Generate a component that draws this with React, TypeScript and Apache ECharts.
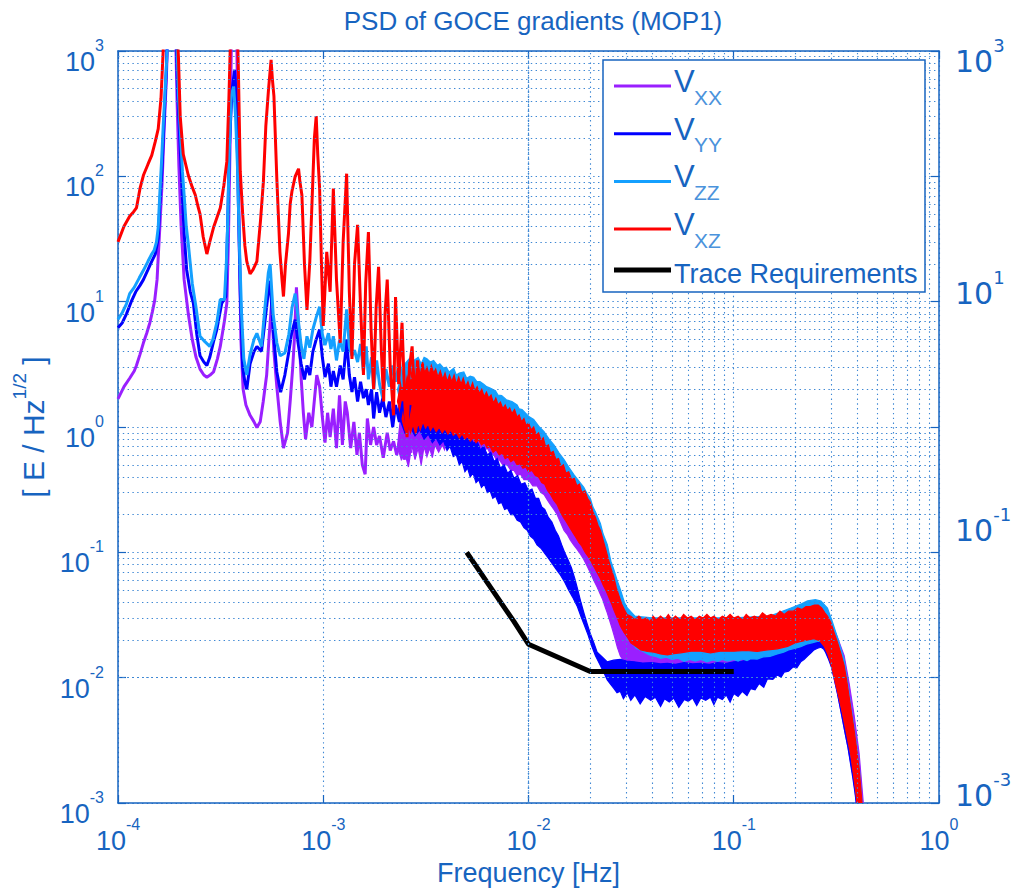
import React, { useEffect, useRef } from "react";
import * as echarts from "echarts";

// ---------------- texts ----------------
const chartTitle = "PSD of GOCE gradients (MOP1)";
const xAxisTitle = "Frequency [Hz]";
const yTitleMain = "[ E / Hz";
const yTitleSup = "1/2";
const yTitleEnd = " ]";
const legendNames = ["VXX", "VYY", "VZZ", "VXZ", "Trace Requirements"];
const xDecades = [1e-4, 1e-3, 1e-2, 1e-1];
const yDecades = [1e-3, 1e-2, 1e-1, 1, 10, 100];
const minorMultipliers = [2, 3, 4, 5, 6, 7, 8, 9];
const rightLabelExponents = [3, 1, -1, -3];

// ---------------- data: low-frequency (line) parts ----------------
const vxxLow = [
  [1.0e-4, 1.68], [1.07e-4, 2.1], [1.14e-4, 2.45], [1.2e-4, 2.8], [1.23e-4, 3.1], [1.28e-4, 3.8], [1.33e-4, 4.7], [1.38e-4, 5.6], [1.43e-4, 6.8], [1.47e-4, 8.3], [1.51e-4, 10.3], [1.55e-4, 15], [1.57e-4, 22.6], [1.6e-4, 40], [1.64e-4, 90], [1.68e-4, 250], [1.72e-4, 600], [1.76e-4, 2000], [1.9e-4, 2000], [1.94e-4, 400], [1.98e-4, 120], [2.03e-4, 40], [2.1e-4, 15], [2.2e-4, 8], [2.3e-4, 5], [2.4e-4, 3.6], [2.51e-4, 2.9], [2.62e-4, 2.6], [2.71e-4, 2.5], [2.81e-4, 2.6], [2.92e-4, 2.75], [3.05e-4, 3.5], [3.15e-4, 4.4], [3.3e-4, 7], [3.39e-4, 9.7], [3.45e-4, 30], [3.52e-4, 200], [3.58e-4, 2000], [3.78e-4, 2000], [3.84e-4, 200], [3.9e-4, 30], [3.97e-4, 5], [4.07e-4, 2.0], [4.2e-4, 1.5], [4.4e-4, 1.24], [4.6e-4, 1.1], [4.75e-4, 0.99], [4.93e-4, 1.1], [5.1e-4, 1.6], [5.3e-4, 2.6], [5.45e-4, 5.3], [5.6e-4, 9.7], [5.75e-4, 4], [5.94e-4, 2.1], [6.17e-4, 1.1], [6.4e-4, 0.68], [6.7e-4, 0.9], [6.9e-4, 1.6], [7.1e-4, 3], [7.25e-4, 5.3], [7.4e-4, 13], [7.6e-4, 6], [7.8e-4, 2.5], [8.0e-4, 1.3], [8.2e-4, 0.8], [8.5e-4, 1.3], [8.8e-4, 1.0], [9.1e-4, 1.8], [9.3e-4, 2.6], [9.6e-4, 2.1], [9.9e-4, 1.2], [1.02e-3, 0.75], [1.05e-3, 1.3], [1.08e-3, 0.83], [1.12e-3, 1.4], [1.16e-3, 0.68], [1.2e-3, 1.79], [1.24e-3, 0.72], [1.28e-3, 1.6], [1.31e-3, 1.3], [1.36e-3, 0.68], [1.41e-3, 1.1], [1.46e-3, 0.6], [1.5e-3, 0.9], [1.55e-3, 0.5], [1.6e-3, 0.42], [1.64e-3, 1.17], [1.7e-3, 0.72], [1.76e-3, 1.0], [1.82e-3, 0.72], [1.88e-3, 0.85], [1.96e-3, 0.57], [2.05e-3, 0.9], [2.12e-3, 0.65], [2.2e-3, 0.77], [2.28e-3, 0.6], [2.38e-3, 0.83], [2.48e-3, 0.55], [2.58e-3, 0.75], [2.68e-3, 0.62],
];
const vyyLow = [
  [1.0e-4, 6.2], [1.05e-4, 6.8], [1.1e-4, 8], [1.16e-4, 10], [1.22e-4, 12], [1.28e-4, 13.5], [1.33e-4, 15], [1.4e-4, 18], [1.46e-4, 21], [1.52e-4, 24], [1.57e-4, 32], [1.6e-4, 60], [1.64e-4, 120], [1.68e-4, 300], [1.72e-4, 700], [1.75e-4, 2000], [1.91e-4, 2000], [1.95e-4, 500], [2.0e-4, 200], [2.05e-4, 80], [2.1e-4, 35], [2.16e-4, 18], [2.25e-4, 12], [2.33e-4, 9.7], [2.42e-4, 5.5], [2.51e-4, 3.7], [2.62e-4, 3.3], [2.71e-4, 3.1], [2.8e-4, 3.6], [2.92e-4, 4.8], [3.03e-4, 6.0], [3.2e-4, 9.7], [3.35e-4, 11], [3.42e-4, 40], [3.5e-4, 200], [3.6e-4, 500], [3.7e-4, 709], [3.78e-4, 400], [3.86e-4, 60], [3.94e-4, 12], [4.05e-4, 3.0], [4.15e-4, 2.3], [4.24e-4, 2.0], [4.4e-4, 3.2], [4.6e-4, 4.0], [4.75e-4, 4.4], [5.0e-4, 4.0], [5.2e-4, 7], [5.4e-4, 12], [5.51e-4, 14.7], [5.7e-4, 6], [5.94e-4, 2.75], [6.2e-4, 1.9], [6.5e-4, 2.6], [6.8e-4, 4], [7.0e-4, 5.5], [7.3e-4, 7.2], [7.5e-4, 5], [7.8e-4, 3.2], [8.1e-4, 2.4], [8.33e-4, 3.1], [8.6e-4, 2.6], [8.9e-4, 4.0], [9.24e-4, 5.0], [9.6e-4, 6.0], [9.9e-4, 3.6], [1.02e-3, 2.5], [1.06e-3, 3.2], [1.09e-3, 2.1], [1.12e-3, 2.8], [1.16e-3, 2.1], [1.21e-3, 3.1], [1.25e-3, 2.4], [1.3e-3, 5.0], [1.34e-3, 2.6], [1.38e-3, 1.9], [1.42e-3, 2.5], [1.47e-3, 1.6], [1.52e-3, 2.3], [1.57e-3, 1.7], [1.62e-3, 2.0], [1.66e-3, 1.5], [1.72e-3, 2.0], [1.76e-3, 1.17], [1.82e-3, 1.9], [1.88e-3, 1.3], [1.95e-3, 1.7], [2.02e-3, 1.2], [2.1e-3, 1.6], [2.18e-3, 1.0], [2.25e-3, 1.5], [2.35e-3, 1.1], [2.45e-3, 1.6], [2.55e-3, 1.05], [2.65e-3, 1.5],
];
const vzzLow = [
  [1.0e-4, 7.2], [1.05e-4, 8.2], [1.1e-4, 9.6], [1.14e-4, 11.6], [1.2e-4, 13], [1.27e-4, 15.5], [1.33e-4, 17.8], [1.4e-4, 21], [1.46e-4, 24], [1.5e-4, 25.7], [1.54e-4, 30], [1.57e-4, 39], [1.6e-4, 75], [1.63e-4, 131], [1.66e-4, 250], [1.69e-4, 437], [1.73e-4, 900], [1.76e-4, 2000], [1.92e-4, 2000], [1.97e-4, 450], [2.01e-4, 239], [2.06e-4, 110], [2.1e-4, 71], [2.15e-4, 40], [2.2e-4, 29], [2.3e-4, 14], [2.4e-4, 9], [2.51e-4, 5.3], [2.65e-4, 4.8], [2.8e-4, 4.4], [2.9e-4, 5.0], [3.03e-4, 6.8], [3.15e-4, 10.4], [3.3e-4, 10.4], [3.37e-4, 20], [3.42e-4, 40], [3.48e-4, 150], [3.56e-4, 437], [3.66e-4, 520], [3.74e-4, 300], [3.82e-4, 120], [3.9e-4, 30], [4.0e-4, 8], [4.1e-4, 3.5], [4.24e-4, 2.6], [4.4e-4, 3.8], [4.6e-4, 5.0], [4.75e-4, 5.6], [5.0e-4, 4.4], [5.2e-4, 9], [5.4e-4, 17], [5.51e-4, 20], [5.7e-4, 8], [5.94e-4, 4.7], [6.17e-4, 3.7], [6.5e-4, 3.9], [6.8e-4, 5.5], [7.05e-4, 9], [7.3e-4, 11.6], [7.5e-4, 8], [7.8e-4, 4.5], [8.05e-4, 3.5], [8.33e-4, 5.3], [8.6e-4, 4.3], [8.9e-4, 6.0], [9.24e-4, 7.5], [9.6e-4, 9.1], [9.9e-4, 5.5], [1.02e-3, 4.5], [1.06e-3, 5.6], [1.09e-3, 4.2], [1.12e-3, 5.3], [1.16e-3, 3.4], [1.2e-3, 4.9], [1.25e-3, 4.0], [1.3e-3, 8.7], [1.34e-3, 4.4], [1.38e-3, 3.7], [1.42e-3, 4.1], [1.47e-3, 3.3], [1.52e-3, 4.6], [1.57e-3, 2.8], [1.62e-3, 4.4], [1.66e-3, 2.4], [1.72e-3, 3.6], [1.76e-3, 2.0], [1.82e-3, 3.4], [1.88e-3, 2.2], [1.95e-3, 1.7], [2.02e-3, 2.9], [2.1e-3, 2.1], [2.18e-3, 3.1], [2.25e-3, 2.3], [2.35e-3, 3.3], [2.45e-3, 2.1], [2.55e-3, 3.0], [2.65e-3, 2.4],
];
const vxzLow = [
  [1.0e-4, 30], [1.07e-4, 40], [1.14e-4, 48], [1.19e-4, 52], [1.23e-4, 56], [1.28e-4, 80], [1.33e-4, 102], [1.4e-4, 125], [1.46e-4, 147], [1.52e-4, 190], [1.57e-4, 239], [1.62e-4, 420], [1.66e-4, 1000], [1.69e-4, 2000], [1.92e-4, 2000], [1.97e-4, 900], [2.01e-4, 300], [2.08e-4, 150], [2.2e-4, 102], [2.3e-4, 82], [2.38e-4, 71], [2.45e-4, 58], [2.51e-4, 50], [2.6e-4, 33], [2.71e-4, 24], [2.8e-4, 30], [2.92e-4, 39], [3.05e-4, 48], [3.15e-4, 56], [3.28e-4, 85], [3.39e-4, 131], [3.47e-4, 420], [3.52e-4, 1000], [3.56e-4, 2000], [3.8e-4, 2000], [3.86e-4, 700], [3.94e-4, 110], [4.05e-4, 50], [4.15e-4, 28], [4.24e-4, 21], [4.4e-4, 16.7], [4.55e-4, 18], [4.75e-4, 21], [4.95e-4, 45], [5.11e-4, 91], [5.25e-4, 250], [5.41e-4, 490], [5.57e-4, 850], [5.65e-4, 600], [5.75e-4, 437], [5.94e-4, 96], [6.15e-4, 25], [6.3e-4, 14.8], [6.4e-4, 11], [6.55e-4, 20], [6.77e-4, 35], [6.9e-4, 60], [7.04e-4, 76], [7.3e-4, 100], [7.58e-4, 115], [7.7e-4, 90], [7.87e-4, 71], [8.1e-4, 20], [8.33e-4, 8.6], [8.6e-4, 21], [8.81e-4, 60], [9.05e-4, 200], [9.24e-4, 303], [9.4e-4, 150], [9.6e-4, 80], [9.8e-4, 20], [1.0e-3, 6.4], [1.04e-3, 25], [1.08e-3, 12], [1.12e-3, 80], [1.16e-3, 15], [1.21e-3, 4.7], [1.25e-3, 30], [1.3e-3, 105], [1.34e-3, 12], [1.38e-3, 3.5], [1.42e-3, 20], [1.47e-3, 41], [1.52e-3, 9], [1.57e-3, 2.6], [1.61e-3, 14], [1.66e-3, 36], [1.71e-3, 6], [1.76e-3, 2.0], [1.81e-3, 9], [1.86e-3, 19], [1.92e-3, 4], [1.97e-3, 1.6], [2.0e-3, 8], [2.05e-3, 15], [2.12e-3, 3], [2.2e-3, 1.24], [2.25e-3, 10.9], [2.33e-3, 2.2], [2.42e-3, 6.8], [2.5e-3, 1.5], [2.56e-3, 0.83], [2.63e-3, 3.0], [2.71e-3, 4.4], [2.8e-3, 1.3], [2.88e-3, 3.4], [2.97e-3, 1.4], [3.05e-3, 3.2],
];

// ---------------- data: noisy band parts (upper / lower envelopes) ----------------
const vxxUpper = [
  [2.3e-3, 0.7], [2.5e-3, 2.6], [2.8e-3, 2.9], [3.1e-3, 2.7], [3.5e-3, 2.6], [4e-3, 2.3], [4.5e-3, 2.2], [5e-3, 2.1], [5.5e-3, 1.95], [6e-3, 1.8], [6.5e-3, 1.7], [7e-3, 1.6], [7.5e-3, 1.45], [8e-3, 1.35], [8.5e-3, 1.25], [9e-3, 1.15], [9.5e-3, 1.08], [1e-2, 1.0], [1.1e-2, 0.85], [1.2e-2, 0.72], [1.3e-2, 0.6], [1.4e-2, 0.5], [1.5e-2, 0.43], [1.6e-2, 0.38], [1.8e-2, 0.3], [2.0e-2, 0.24], [2.2e-2, 0.17], [2.4e-2, 0.1], [2.6e-2, 0.06], [2.8e-2, 0.04], [3.0e-2, 0.03], [3.3e-2, 0.025], [4e-2, 0.024], [6e-2, 0.024], [0.1, 0.025], [0.15, 0.027], [0.2, 0.031], [0.25, 0.034], [0.28, 0.032], [0.3, 0.027], [0.32, 0.021], [0.345, 0.015], [0.365, 0.009], [0.386, 0.005], [0.408, 0.0025], [0.43, 0.0009],
];
const vxxLower = [
  [2.3e-3, 0.7], [2.4e-3, 0.55], [2.5e-3, 0.62], [2.6e-3, 0.48], [2.7e-3, 0.72], [2.8e-3, 0.55], [2.9e-3, 0.68], [3.0e-3, 0.5], [3.1e-3, 0.7], [3.2e-3, 0.58], [3.3e-3, 0.68], [3.4e-3, 0.57], [3.5e-3, 0.72], [3.65e-3, 0.63], [3.8e-3, 0.72], [3.9e-3, 0.66], [4.0e-3, 0.78], [4.15e-3, 0.7], [4.3e-3, 0.8], [4.45e-3, 0.7], [4.6e-3, 0.75], [4.8e-3, 0.7], [5.0e-3, 0.78], [5.2e-3, 0.7], [5.4e-3, 0.74], [5.6e-3, 0.66], [5.8e-3, 0.7], [6.05e-3, 0.64], [6.3e-3, 0.68], [6.55e-3, 0.6], [6.78e-3, 0.6], [7.0e-3, 0.54], [7.2e-3, 0.55], [7.5e-3, 0.5], [7.87e-3, 0.5], [8.2e-3, 0.45], [8.5e-3, 0.45], [8.8e-3, 0.41], [9.14e-3, 0.42], [9.5e-3, 0.38], [1.0e-2, 0.38], [1.05e-2, 0.34], [1.1e-2, 0.34], [1.15e-2, 0.3], [1.19e-2, 0.29], [1.24e-2, 0.26], [1.28e-2, 0.24], [1.33e-2, 0.22], [1.38e-2, 0.2], [1.43e-2, 0.175], [1.49e-2, 0.15], [1.55e-2, 0.138], [1.6e-2, 0.125], [1.66e-2, 0.115], [1.73e-2, 0.105], [1.8e-2, 0.096], [1.86e-2, 0.088], [1.93e-2, 0.078], [2.01e-2, 0.068], [2.08e-2, 0.06], [2.16e-2, 0.053], [2.23e-2, 0.047], [2.3e-2, 0.042], [2.36e-2, 0.037], [2.42e-2, 0.033], [2.48e-2, 0.029], [2.55e-2, 0.025], [2.63e-2, 0.021], [2.71e-2, 0.0175], [2.8e-2, 0.015], [2.92e-2, 0.0134], [3.05e-2, 0.013], [3.15e-2, 0.0126], [3.5e-2, 0.0122], [4e-2, 0.0122], [4.75e-2, 0.012], [5.73e-2, 0.0122], [6.91e-2, 0.0125], [8e-2, 0.0128], [0.1, 0.013], [0.12, 0.0135], [0.146, 0.0145], [0.176, 0.016], [0.2, 0.0175], [0.23, 0.0185], [0.256, 0.019], [0.276, 0.0175], [0.297, 0.013], [0.32, 0.0075], [0.34, 0.0045], [0.36, 0.0028], [0.38, 0.0017], [0.4, 0.0009],
];
const vyyUpper = [
  [2.3e-3, 1.3], [2.5e-3, 2.2], [3e-3, 2.3], [3.5e-3, 2.0], [4e-3, 1.5], [4.5e-3, 1.1], [4.84e-3, 0.88], [5.0e-3, 0.8], [5.2e-3, 0.84], [5.4e-3, 0.74], [5.6e-3, 0.78], [5.83e-3, 0.66], [6.05e-3, 0.7], [6.3e-3, 0.6], [6.55e-3, 0.63], [6.8e-3, 0.53], [7.04e-3, 0.56], [7.3e-3, 0.47], [7.6e-3, 0.5], [7.9e-3, 0.43], [8.2e-3, 0.45], [8.5e-3, 0.39], [8.85e-3, 0.41], [9.2e-3, 0.35], [9.6e-3, 0.36], [1.0e-2, 0.31], [1.04e-2, 0.32], [1.08e-2, 0.27], [1.12e-2, 0.27], [1.16e-2, 0.23], [1.2e-2, 0.22], [1.25e-2, 0.19], [1.3e-2, 0.175], [1.35e-2, 0.15], [1.4e-2, 0.135], [1.45e-2, 0.115], [1.5e-2, 0.1], [1.56e-2, 0.087], [1.62e-2, 0.075], [1.68e-2, 0.062], [1.74e-2, 0.05], [1.8e-2, 0.04], [1.86e-2, 0.033], [1.93e-2, 0.027], [2.01e-2, 0.022], [2.08e-2, 0.019], [2.16e-2, 0.016], [2.3e-2, 0.0145], [2.42e-2, 0.0134], [2.6e-2, 0.0138], [2.8e-2, 0.014], [3.0e-2, 0.0136], [3.27e-2, 0.0134], [3.6e-2, 0.0131], [4e-2, 0.0132], [4.4e-2, 0.0129], [4.75e-2, 0.013], [5.2e-2, 0.0128], [5.73e-2, 0.0132], [6.3e-2, 0.0129], [6.91e-2, 0.013], [7.6e-2, 0.0128], [8.33e-2, 0.0132], [9.1e-2, 0.013], [0.1, 0.0134], [0.11, 0.0136], [0.121, 0.014], [0.133, 0.0143], [0.146, 0.015], [0.163, 0.0158], [0.183, 0.0167], [0.205, 0.018], [0.22, 0.019], [0.246, 0.0195], [0.266, 0.0198], [0.286, 0.0186], [0.3, 0.016], [0.32, 0.012], [0.345, 0.008], [0.365, 0.0045], [0.386, 0.0025], [0.4, 0.0012], [0.41, 0.0009],
];
const vyyLower = [
  [2.3e-3, 1.3], [2.5e-3, 0.9], [2.65e-3, 1.0], [2.8e-3, 0.85], [2.95e-3, 0.95], [3.1e-3, 0.8], [3.25e-3, 0.88], [3.4e-3, 0.75], [3.55e-3, 0.82], [3.7e-3, 0.72], [3.85e-3, 0.78], [4.01e-3, 0.65], [4.15e-3, 0.7], [4.3e-3, 0.58], [4.45e-3, 0.6], [4.6e-3, 0.5], [4.75e-3, 0.53], [4.9e-3, 0.44], [5.05e-3, 0.47], [5.2e-3, 0.4], [5.37e-3, 0.43], [5.55e-3, 0.36], [5.72e-3, 0.38], [5.9e-3, 0.33], [6.1e-3, 0.35], [6.3e-3, 0.3], [6.5e-3, 0.31], [6.7e-3, 0.27], [6.92e-3, 0.28], [7.15e-3, 0.245], [7.4e-3, 0.25], [7.65e-3, 0.22], [7.9e-3, 0.225], [8.2e-3, 0.2], [8.5e-3, 0.2], [8.81e-3, 0.18], [9.15e-3, 0.175], [9.5e-3, 0.158], [9.86e-3, 0.15], [1.02e-2, 0.135], [1.06e-2, 0.128], [1.1e-2, 0.115], [1.15e-2, 0.108], [1.2e-2, 0.098], [1.25e-2, 0.09], [1.3e-2, 0.082], [1.36e-2, 0.074], [1.43e-2, 0.066], [1.5e-2, 0.058], [1.57e-2, 0.05], [1.64e-2, 0.044], [1.73e-2, 0.037], [1.8e-2, 0.031], [1.86e-2, 0.027], [1.95e-2, 0.022], [2.03e-2, 0.018], [2.12e-2, 0.015], [2.24e-2, 0.0125], [2.34e-2, 0.0108], [2.42e-2, 0.0096], [2.52e-2, 0.0088], [2.61e-2, 0.0082], [2.7e-2, 0.0076], [2.8e-2, 0.0078], [2.9e-2, 0.0068], [3.03e-2, 0.0076], [3.15e-2, 0.0066], [3.3e-2, 0.0073], [3.5e-2, 0.0062], [3.7e-2, 0.0071], [3.94e-2, 0.0066], [4.15e-2, 0.007], [4.4e-2, 0.0059], [4.6e-2, 0.0068], [4.85e-2, 0.0064], [5.1e-2, 0.0069], [5.4e-2, 0.0058], [5.73e-2, 0.0067], [6.0e-2, 0.0065], [6.3e-2, 0.0069], [6.6e-2, 0.006], [6.91e-2, 0.0069], [7.3e-2, 0.0066], [7.7e-2, 0.007], [8.0e-2, 0.0061], [8.33e-2, 0.007], [8.8e-2, 0.0067], [9.2e-2, 0.0073], [9.6e-2, 0.0064], [0.1, 0.0075], [0.105, 0.0071], [0.11, 0.0078], [0.116, 0.0072], [0.121, 0.0082], [0.127, 0.008], [0.133, 0.009], [0.14, 0.0084], [0.146, 0.0098], [0.155, 0.0097], [0.163, 0.0105], [0.17, 0.0101], [0.176, 0.0111], [0.185, 0.0113], [0.195, 0.0122], [0.203, 0.012], [0.212, 0.0134], [0.22, 0.014], [0.23, 0.015], [0.238, 0.0158], [0.246, 0.0167], [0.256, 0.0172], [0.266, 0.0175], [0.274, 0.017], [0.28, 0.016], [0.29, 0.014], [0.3, 0.012], [0.31, 0.0095], [0.32, 0.0075], [0.33, 0.0058], [0.34, 0.0045], [0.35, 0.0035], [0.36, 0.0028], [0.37, 0.0021], [0.38, 0.0016], [0.39, 0.0012], [0.395, 0.001], [0.4, 0.0009],
];
const vzzUpper = [
  [2.3e-3, 2.0], [2.5e-3, 3.2], [2.62e-3, 3.5], [2.76e-3, 3.4], [2.9e-3, 3.6], [3.0e-3, 3.2], [3.1e-3, 3.6], [3.2e-3, 3.5], [3.32e-3, 3.3], [3.45e-3, 3.4], [3.6e-3, 3.1], [3.7e-3, 3.2], [3.86e-3, 2.95], [3.98e-3, 3.0], [4.1e-3, 2.75], [4.32e-3, 2.95], [4.45e-3, 2.6], [4.6e-3, 2.7], [4.84e-3, 2.75], [5.0e-3, 2.45], [5.2e-3, 2.55], [5.41e-3, 2.5], [5.6e-3, 2.3], [5.8e-3, 2.3], [6.05e-3, 2.2], [6.25e-3, 2.1], [6.5e-3, 2.05], [6.9e-3, 1.95], [7.1e-3, 1.8], [7.4e-3, 1.78], [7.8e-3, 1.65], [8.3e-3, 1.6], [8.8e-3, 1.5], [9.0e-3, 1.4], [9.3e-3, 1.38], [1.0e-2, 1.22], [1.06e-2, 1.15], [1.13e-2, 1.0], [1.19e-2, 0.92], [1.26e-2, 0.8], [1.33e-2, 0.72], [1.41e-2, 0.62], [1.49e-2, 0.55], [1.57e-2, 0.48], [1.66e-2, 0.42], [1.76e-2, 0.37], [1.86e-2, 0.33], [1.94e-2, 0.29], [2.0e-2, 0.27], [2.06e-2, 0.23], [2.12e-2, 0.21], [2.24e-2, 0.17], [2.31e-2, 0.14], [2.42e-2, 0.115], [2.52e-2, 0.085], [2.61e-2, 0.072], [2.72e-2, 0.058], [2.81e-2, 0.05], [2.93e-2, 0.04], [3.03e-2, 0.036], [3.3e-2, 0.031], [4e-2, 0.03], [6e-2, 0.03], [0.1, 0.03], [0.15, 0.031], [0.19, 0.036], [0.215, 0.039], [0.229, 0.041], [0.25, 0.042], [0.266, 0.041], [0.286, 0.036], [0.3, 0.029], [0.32, 0.021], [0.345, 0.014], [0.365, 0.0075], [0.386, 0.004], [0.408, 0.002], [0.424, 0.0009],
];
const vzzLower = [
  [2.3e-3, 2.0], [2.5e-3, 1.0], [3e-3, 1.1], [4e-3, 0.95], [5e-3, 0.88], [6e-3, 0.78], [7e-3, 0.68], [8e-3, 0.6], [9e-3, 0.53], [1.0e-2, 0.5], [1.15e-2, 0.44], [1.23e-2, 0.37], [1.3e-2, 0.31], [1.43e-2, 0.21], [1.6e-2, 0.16], [1.79e-2, 0.124], [2.01e-2, 0.092], [2.24e-2, 0.066], [2.51e-2, 0.042], [2.71e-2, 0.031], [2.92e-2, 0.024], [3.15e-2, 0.0195], [3.35e-2, 0.0172], [3.6e-2, 0.0163], [3.8e-2, 0.0155], [3.94e-2, 0.0151], [4.2e-2, 0.0147], [4.4e-2, 0.0143], [4.7e-2, 0.0146], [5e-2, 0.014], [5.35e-2, 0.0143], [5.73e-2, 0.0135], [6.1e-2, 0.014], [6.5e-2, 0.0136], [6.9e-2, 0.014], [7.4e-2, 0.0134], [7.9e-2, 0.0139], [8.33e-2, 0.0135], [8.8e-2, 0.014], [9.3e-2, 0.0136], [0.1, 0.014], [0.105, 0.0136], [0.11, 0.0141], [0.116, 0.0137], [0.121, 0.0142], [0.13, 0.0141], [0.14, 0.0147], [0.15, 0.0148], [0.163, 0.0155], [0.175, 0.016], [0.185, 0.0167], [0.2, 0.0172], [0.212, 0.0177], [0.226, 0.0185], [0.24, 0.019], [0.255, 0.0195], [0.266, 0.0196], [0.276, 0.0185], [0.286, 0.017], [0.3, 0.0125], [0.32, 0.008], [0.34, 0.0052], [0.36, 0.0033], [0.38, 0.002], [0.398, 0.0011], [0.402, 0.0009],
];
const vxzUpper = [
  [2.3e-3, 1.6], [2.4e-3, 2.4], [2.5e-3, 3.0], [2.56e-3, 2.3], [2.62e-3, 3.3], [2.7e-3, 2.6], [2.76e-3, 2.9], [2.83e-3, 2.4], [2.9e-3, 3.1], [2.97e-3, 2.6], [3.05e-3, 3.3], [3.12e-3, 2.7], [3.2e-3, 3.0], [3.28e-3, 2.6], [3.36e-3, 3.1], [3.45e-3, 2.7], [3.53e-3, 2.9], [3.62e-3, 2.5], [3.72e-3, 2.8], [3.82e-3, 2.4], [3.92e-3, 2.7], [4.02e-3, 2.3], [4.12e-3, 2.6], [4.23e-3, 2.3], [4.34e-3, 2.6], [4.45e-3, 2.2], [4.57e-3, 2.5], [4.69e-3, 2.2], [4.81e-3, 2.45], [4.94e-3, 2.1], [5.07e-3, 2.3], [5.2e-3, 2.0], [5.34e-3, 2.25], [5.48e-3, 1.95], [5.62e-3, 2.1], [5.77e-3, 1.85], [5.92e-3, 2.0], [6.08e-3, 1.75], [6.24e-3, 1.9], [6.4e-3, 1.7], [6.57e-3, 1.8], [6.75e-3, 1.55], [6.93e-3, 1.7], [7.11e-3, 1.5], [7.3e-3, 1.58], [7.5e-3, 1.4], [7.7e-3, 1.5], [7.9e-3, 1.35], [8.1e-3, 1.42], [8.3e-3, 1.28], [8.55e-3, 1.38], [8.8e-3, 1.2], [9.0e-3, 1.25], [9.25e-3, 1.1], [9.5e-3, 1.17], [9.75e-3, 1.02], [1.0e-2, 1.08], [1.03e-2, 0.95], [1.06e-2, 1.0], [1.09e-2, 0.86], [1.12e-2, 0.9], [1.15e-2, 0.78], [1.18e-2, 0.82], [1.21e-2, 0.7], [1.25e-2, 0.72], [1.28e-2, 0.62], [1.32e-2, 0.64], [1.36e-2, 0.55], [1.4e-2, 0.56], [1.44e-2, 0.48], [1.48e-2, 0.5], [1.52e-2, 0.43], [1.57e-2, 0.44], [1.62e-2, 0.38], [1.67e-2, 0.39], [1.72e-2, 0.34], [1.77e-2, 0.35], [1.82e-2, 0.3], [1.88e-2, 0.31], [1.94e-2, 0.27], [2.0e-2, 0.25], [2.06e-2, 0.21], [2.12e-2, 0.19], [2.18e-2, 0.165], [2.24e-2, 0.15], [2.31e-2, 0.125], [2.38e-2, 0.105], [2.45e-2, 0.088], [2.52e-2, 0.075], [2.6e-2, 0.064], [2.68e-2, 0.052], [2.76e-2, 0.045], [2.84e-2, 0.039], [2.93e-2, 0.035], [3.02e-2, 0.032], [3.15e-2, 0.031], [3.3e-2, 0.029], [3.45e-2, 0.031], [3.6e-2, 0.029], [3.75e-2, 0.03], [3.9e-2, 0.028], [4.05e-2, 0.031], [4.2e-2, 0.029], [4.4e-2, 0.031], [4.6e-2, 0.029], [4.8e-2, 0.032], [5.0e-2, 0.029], [5.2e-2, 0.031], [5.45e-2, 0.029], [5.7e-2, 0.032], [5.95e-2, 0.03], [6.2e-2, 0.031], [6.5e-2, 0.029], [6.8e-2, 0.031], [7.1e-2, 0.03], [7.4e-2, 0.032], [7.7e-2, 0.03], [8.0e-2, 0.031], [8.4e-2, 0.029], [8.8e-2, 0.031], [9.2e-2, 0.03], [9.6e-2, 0.032], [0.1, 0.03], [0.105, 0.031], [0.11, 0.029], [0.115, 0.032], [0.12, 0.03], [0.126, 0.031], [0.132, 0.03], [0.138, 0.033], [0.145, 0.031], [0.152, 0.032], [0.16, 0.031], [0.168, 0.034], [0.176, 0.032], [0.185, 0.034], [0.195, 0.034], [0.205, 0.036], [0.215, 0.035], [0.225, 0.037], [0.236, 0.037], [0.247, 0.038], [0.258, 0.038], [0.268, 0.036], [0.278, 0.033], [0.286, 0.031], [0.297, 0.0276], [0.308, 0.023], [0.32, 0.0192], [0.333, 0.0155], [0.345, 0.0125], [0.355, 0.0095], [0.365, 0.007], [0.375, 0.0052], [0.386, 0.0038], [0.397, 0.0027], [0.408, 0.0019], [0.424, 0.0009],
];
const vxzLower = [
  [2.3e-3, 1.6], [2.4e-3, 1.2], [2.5e-3, 0.95], [2.58e-3, 1.1], [2.66e-3, 0.9], [2.74e-3, 1.05], [2.82e-3, 0.88], [2.9e-3, 1.08], [2.97e-3, 0.95], [3.06e-3, 1.1], [3.15e-3, 0.98], [3.24e-3, 1.06], [3.33e-3, 0.94], [3.43e-3, 1.02], [3.55e-3, 0.92], [3.67e-3, 1.0], [3.8e-3, 0.9], [3.92e-3, 0.97], [4.05e-3, 0.88], [4.18e-3, 0.95], [4.3e-3, 0.86], [4.45e-3, 0.9], [4.6e-3, 0.82], [4.75e-3, 0.88], [4.9e-3, 0.8], [5.05e-3, 0.85], [5.2e-3, 0.77], [5.38e-3, 0.82], [5.55e-3, 0.75], [5.72e-3, 0.79], [5.9e-3, 0.72], [6.1e-3, 0.75], [6.3e-3, 0.68], [6.5e-3, 0.7], [6.72e-3, 0.63], [6.95e-3, 0.66], [7.2e-3, 0.6], [7.45e-3, 0.62], [7.7e-3, 0.56], [7.95e-3, 0.58], [8.2e-3, 0.53], [8.5e-3, 0.55], [8.8e-3, 0.5], [9.1e-3, 0.51], [9.4e-3, 0.47], [9.7e-3, 0.48], [1.0e-2, 0.44], [1.04e-2, 0.45], [1.08e-2, 0.41], [1.12e-2, 0.4], [1.16e-2, 0.36], [1.2e-2, 0.35], [1.24e-2, 0.31], [1.28e-2, 0.29], [1.33e-2, 0.26], [1.38e-2, 0.24], [1.43e-2, 0.21], [1.48e-2, 0.19], [1.53e-2, 0.175], [1.58e-2, 0.16], [1.64e-2, 0.145], [1.7e-2, 0.132], [1.76e-2, 0.12], [1.82e-2, 0.112], [1.89e-2, 0.1], [1.96e-2, 0.092], [2.03e-2, 0.083], [2.1e-2, 0.075], [2.17e-2, 0.068], [2.24e-2, 0.062], [2.31e-2, 0.055], [2.38e-2, 0.05], [2.46e-2, 0.044], [2.54e-2, 0.039], [2.62e-2, 0.034], [2.71e-2, 0.03], [2.8e-2, 0.026], [2.92e-2, 0.023], [3.04e-2, 0.021], [3.15e-2, 0.019], [3.3e-2, 0.018], [3.52e-2, 0.0167], [3.8e-2, 0.0162], [4.09e-2, 0.016], [4.4e-2, 0.0155], [4.75e-2, 0.0152], [5.1e-2, 0.0156], [5.5e-2, 0.0158], [6.2e-2, 0.0163], [6.91e-2, 0.0163], [7.7e-2, 0.0158], [8.6e-2, 0.0163], [0.1, 0.0163], [0.115, 0.0165], [0.13, 0.0162], [0.146, 0.0167], [0.163, 0.017], [0.183, 0.0178], [0.2, 0.019], [0.212, 0.0195], [0.23, 0.02], [0.246, 0.0205], [0.262, 0.0198], [0.276, 0.0178], [0.287, 0.0155], [0.297, 0.0131], [0.305, 0.011], [0.312, 0.0093], [0.322, 0.0075], [0.333, 0.0059], [0.342, 0.0048], [0.352, 0.0038], [0.362, 0.003], [0.372, 0.0024], [0.383, 0.0017], [0.394, 0.0012], [0.401, 0.0009],
];
const traceRequirement = [
  [0.005, 0.1], [0.0085, 0.028], [0.01, 0.0185], [0.02, 0.0112], [0.1, 0.0112],
];

// ---------------- styles ----------------
const BLUE = "#1764c0";
const SUB_BLUE = "#4b93dc";
const GRID = "#3f88d4";
const FONT = "'Liberation Sans', Arial, Helvetica, sans-serif";
const NARROW = "'Liberation Sans Narrow', 'Liberation Sans', Arial, sans-serif";
const RIGHT_FONT = "'DejaVu Sans', Verdana, sans-serif";
const COLORS: Record<string, string> = {
  VXX: "#9a1fff",
  VYY: "#0000ff",
  VZZ: "#14a0ff",
  VXZ: "#ff0000",
  "Trace Requirements": "#000000",
};
// extra blank line height under each right-hand label (moves the label up by half of it)
const rightGap: Record<number, number> = { 3: 0, 1: 36, [-1]: 64, [-3]: 36 };
// legend box layout (pixels)
const LEG = { x: 603, y: 60, w: 322, h: 232, lineX0: 614, lineX1: 671, textX: 674, firstY: 86, step: 47.7, traceY: 270 };

function expOf(v: number) {
  return Math.round(Math.log10(v));
}
function richKey(e: number) {
  return e < 0 ? "m" + -e : "p" + e;
}

function lineSeries(name: string, data: number[][], width: number) {
  return {
    type: "line",
    name,
    data,
    symbol: "none",
    showSymbol: false,
    clip: true,
    silent: true,
    z: 3,
    color: COLORS[name],
    lineStyle: { color: COLORS[name], width },
    emphasis: { disabled: true },
  };
}

function bandSeries(name: string, upper: number[][], lower: number[][]) {
  const pts = upper.concat(lower.slice().reverse());
  const color = COLORS[name];
  return {
    type: "custom",
    name: name + " band",
    data: pts,
    clip: true,
    silent: true,
    z: 3,
    renderItem: (params: any, api: any) => {
      if (params.dataIndex !== 0) return null;
      return {
        type: "polygon",
        shape: { points: pts.map((p) => api.coord(p)) },
        style: { fill: color, stroke: color, lineWidth: 1.2 },
      };
    },
  };
}

function legendGraphics() {
  const els: any[] = [
    {
      type: "rect",
      z: 100,
      shape: { x: LEG.x, y: LEG.y, width: LEG.w, height: LEG.h },
      style: { fill: "#ffffff", stroke: BLUE, lineWidth: 1.5 },
      silent: true,
    },
  ];
  legendNames.forEach((name, i) => {
    const isTrace = name === "Trace Requirements";
    const cy = isTrace ? LEG.traceY : LEG.firstY + i * LEG.step;
    els.push({
      type: "line",
      z: 101,
      silent: true,
      shape: { x1: LEG.lineX0, y1: cy, x2: LEG.lineX1, y2: cy },
      style: { stroke: COLORS[name], lineWidth: isTrace ? 5 : 3 },
    });
    if (isTrace) {
      els.push({
        type: "text",
        z: 101,
        silent: true,
        style: { text: name, x: LEG.textX, y: cy + 4, fontSize: 27, fontFamily: FONT, fill: BLUE, align: "left", verticalAlign: "middle" },
      });
    } else {
      els.push({
        type: "text",
        z: 101,
        silent: true,
        style: { text: name.charAt(0), x: LEG.textX, y: cy - 4.5, fontSize: 31, fontFamily: FONT, fill: BLUE, align: "left", verticalAlign: "middle" },
      });
      els.push({
        type: "text",
        z: 101,
        silent: true,
        style: { text: name.slice(1), x: LEG.textX + 20, y: cy + 11, fontSize: 21, fontFamily: FONT, fill: SUB_BLUE, align: "left", verticalAlign: "middle" },
      });
    }
  });
  return els;
}

export default function App() {
  const ref = useRef<HTMLDivElement>(null);

  useEffect(() => {
    if (!ref.current) return;
    const chart = echarts.init(ref.current, undefined, { renderer: "svg" });

    const xMinor = xDecades.flatMap((d) => minorMultipliers.map((m) => d * m));
    const yMinor = yDecades.flatMap((d) => minorMultipliers.map((m) => d * m));
    const dotted = { color: GRID, width: 1.1, type: [1.4, 3.4] as any };

    const tickRich = {
      b: { fontFamily: NARROW, fontSize: 27, lineHeight: 27, padding: [11, 0, 0, 0], verticalAlign: "top", color: BLUE },
      e: { fontFamily: NARROW, fontSize: 16, lineHeight: 16, verticalAlign: "top", color: BLUE },
    };
    const rightRich: Record<string, any> = {};
    rightLabelExponents.forEach((e) => {
      const k = richKey(e);
      rightRich["b" + k] = { fontFamily: RIGHT_FONT, fontSize: 30, lineHeight: 30, padding: [10, 0, 0, 0], verticalAlign: "top", color: BLUE };
      rightRich["e" + k] = { fontFamily: RIGHT_FONT, fontSize: 18, lineHeight: 18, verticalAlign: "top", color: BLUE };
      rightRich["g" + k] = { fontSize: 4, lineHeight: Math.max(rightGap[e], 1), color: "rgba(0,0,0,0)" };
    });

    const option: any = {
      animation: false,
      backgroundColor: "#ffffff",
      title: {
        text: chartTitle,
        left: 528,
        top: 3,
        textAlign: "center",
        textStyle: { color: BLUE, fontSize: 26, fontWeight: "normal", fontFamily: FONT },
      },
      grid: { left: 118, right: 94, top: 51, bottom: 78, containLabel: false, show: false },
      graphic: legendGraphics(),
      xAxis: [
        {
          type: "log",
          logBase: 10,
          min: 1e-4,
          max: 1,
          position: "bottom",
          name: xAxisTitle,
          nameLocation: "middle",
          nameGap: 42,
          nameTextStyle: { color: BLUE, fontSize: 27, fontFamily: FONT },
          axisLine: { show: true, onZero: false, lineStyle: { color: BLUE, width: 1.5 } },
          axisTick: { show: true, inside: true, length: 8, lineStyle: { color: BLUE, width: 1.2 } },
          axisLabel: {
            margin: 13,
            formatter: (v: number) => "{b|10}{e|" + expOf(v) + "}",
            rich: tickRich,
          },
          splitLine: { show: true, lineStyle: dotted },
        },
        {
          type: "log",
          logBase: 10,
          min: 1e-4,
          max: 1,
          position: "top",
          axisLine: { show: true, onZero: false, lineStyle: { color: BLUE, width: 1.5 } },
          axisTick: { show: true, inside: true, length: 8, lineStyle: { color: BLUE, width: 1.2 } },
          axisLabel: { show: false },
          splitLine: { show: false },
        },
      ],
      yAxis: [
        {
          type: "log",
          logBase: 10,
          min: 1e-3,
          max: 1e3,
          position: "left",
          name: "{a|" + yTitleMain + "}{p|" + yTitleSup + "}{a|" + yTitleEnd + "}",
          nameLocation: "middle",
          nameRotate: 90,
          nameGap: 35,
          nameTextStyle: {
            color: BLUE,
            rich: {
              a: { fontFamily: FONT, fontSize: 30, lineHeight: 30, padding: [9, 0, 0, 0], verticalAlign: "top", color: BLUE },
              p: { fontFamily: FONT, fontSize: 19, lineHeight: 19, verticalAlign: "top", color: BLUE },
            },
          },
          axisLine: { show: true, onZero: false, lineStyle: { color: BLUE, width: 1.5 } },
          axisTick: { show: true, inside: true, length: 8, lineStyle: { color: BLUE, width: 1.2 } },
          axisLabel: {
            margin: 14,
            formatter: (v: number) => "{b|10}{e|" + expOf(v) + "}",
            rich: tickRich,
          },
          splitLine: { show: true, lineStyle: dotted },
        },
        {
          type: "log",
          logBase: 10,
          min: 1e-3,
          max: 1e3,
          position: "right",
          axisLine: { show: true, onZero: false, lineStyle: { color: BLUE, width: 1.5 } },
          axisTick: { show: true, inside: true, length: 8, lineStyle: { color: BLUE, width: 1.2 } },
          axisLabel: {
            margin: 16,
            formatter: (v: number) => {
              const e = expOf(v);
              if (rightLabelExponents.indexOf(e) < 0) return "";
              const k = richKey(e);
              const main = "{b" + k + "|10}{e" + k + "|" + e + "}";
              return rightGap[e] > 0 ? main + "\n{g" + k + "| }" : main;
            },
            rich: rightRich,
          },
          splitLine: { show: false },
        },
      ],
      series: [
        {
          type: "line",
          name: "minor grid",
          data: [],
          silent: true,
          z: 1,
          markLine: {
            silent: true,
            symbol: ["none", "none"],
            label: { show: false },
            lineStyle: dotted,
            emphasis: { disabled: true },
            data: [
              ...xMinor.map((v) => ({ xAxis: v })),
              ...yMinor.map((v) => ({ yAxis: v })),
            ],
          },
        },
        lineSeries("VXX", vxxLow, 3),
        bandSeries("VXX", vxxUpper, vxxLower),
        lineSeries("VYY", vyyLow, 3),
        bandSeries("VYY", vyyUpper, vyyLower),
        lineSeries("VZZ", vzzLow, 3),
        bandSeries("VZZ", vzzUpper, vzzLower),
        lineSeries("VXZ", vxzLow, 3),
        bandSeries("VXZ", vxzUpper, vxzLower),
        lineSeries("Trace Requirements", traceRequirement, 5),
      ],
    };

    chart.setOption(option);
    return () => chart.dispose();
  }, []);

  return (
    <div
      ref={ref}
      style={{ position: "absolute", left: 0, top: 0, width: 1033, height: 891, background: "#fff" }}
    />
  );
}
